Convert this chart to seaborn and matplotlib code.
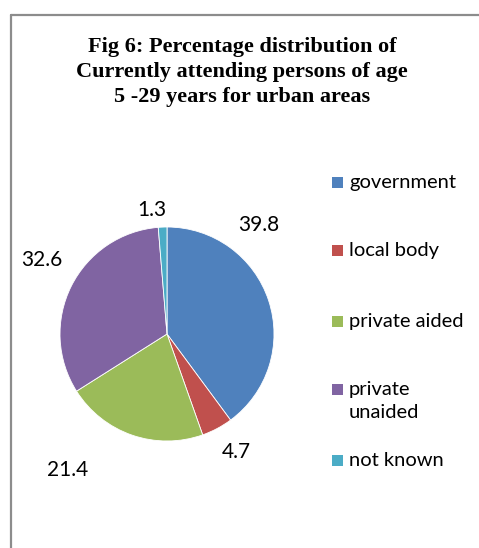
import matplotlib
matplotlib.use("Agg")
import matplotlib.pyplot as plt
import seaborn as sns
from matplotlib.lines import Line2D
from matplotlib.patches import Rectangle

categories = ["government", "local body", "private aided", "private unaided", "not known"]
legend_labels = ["government", "local body", "private aided", "private\nunaided", "not known"]
values = [39.8, 4.7, 21.4, 32.6, 1.3]
value_labels = ["39.8", "4.7", "21.4", "32.6", "1.3"]
colors = ["#4F81BD", "#C0504D", "#9BBB59", "#8064A2", "#4BACC6"]
title = "Fig 6: Percentage distribution of\nCurrently attending persons of age\n5 -29 years for urban areas"

sns.set_theme(style="white")
plt.rcParams["font.family"] = ["Lato", "DejaVu Sans"]

W, H = 479, 548
fig = plt.figure(figsize=(W / 100, H / 100), dpi=100)
fig.patch.set_facecolor("white")

# frame lines
fig.add_artist(Line2D([10.5 / W, 1.0], [1 - 14.5 / H, 1 - 14.5 / H], color="#8c8c8c", lw=1.6, transform=fig.transFigure))
fig.add_artist(Line2D([10.5 / W, 10.5 / W], [0, 1 - 14.5 / H], color="#8c8c8c", lw=1.6, transform=fig.transFigure))

# title
fig.text(242 / W, 1 - 72 / H, title, ha="center", va="center", family="Liberation Serif",
         fontweight="bold", fontsize=16, linespacing=1.32, color="black")

# pie
cx, cy, r = 167, 334, 107
half = 1.5 * r
ax = fig.add_axes([(cx - half) / W, (H - cy - half) / H, 2 * half / W, 2 * half / H])
wedges, _ = ax.pie(values, colors=colors, startangle=90, counterclock=False, radius=1.0,
                   wedgeprops=dict(linewidth=0.6, edgecolor="white"))
ax.set_xlim(-1.5, 1.5)
ax.set_ylim(-1.5, 1.5)
ax.set_aspect("equal")
ax.axis("off")

label_pos = [(0.86, 1.02), (0.65, -1.10), (-0.93, -1.27), (-1.17, 0.69), (-0.14, 1.16)]
for txt, (lx, ly) in zip(value_labels, label_pos):
    ax.text(lx, ly, txt, ha="center", va="center", fontsize=15, color="black")

# legend
leg_y = [182, 250, 321, 389, 460]
for lab, col, y in zip(legend_labels, colors, leg_y):
    fig.add_artist(Rectangle(((332) / W, 1 - (y + 5.5) / H), 11 / W, 11 / H, facecolor=col,
                             edgecolor="none", transform=fig.transFigure))
    fig.text(349 / W, 1 - (y - 8) / H, lab, ha="left", va="top", fontsize=14.5,
             linespacing=1.45, color="black")

fig.savefig("out.png", dpi=100, facecolor="white")
